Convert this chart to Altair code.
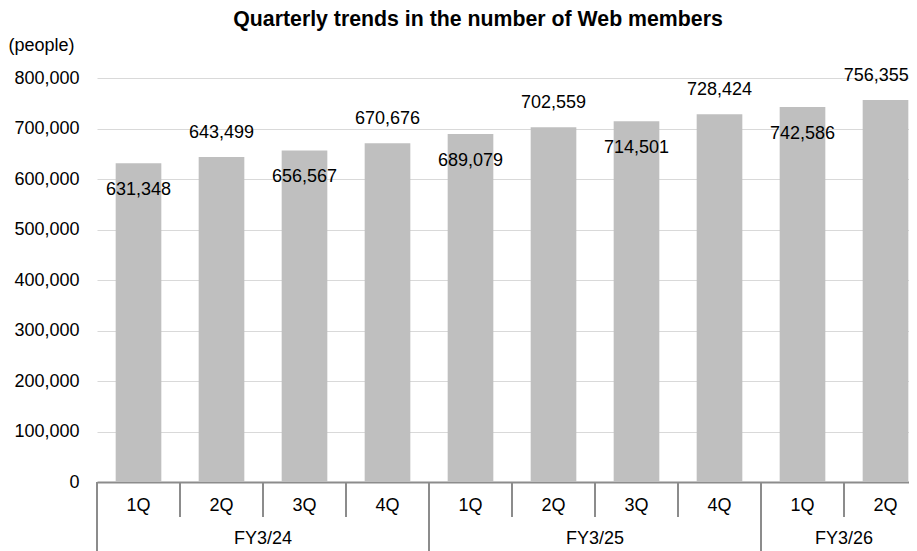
import altair as alt
import pandas as pd

# ---- data ----
fiscal_years = ["FY3/24", "FY3/24", "FY3/24", "FY3/24",
                "FY3/25", "FY3/25", "FY3/25", "FY3/25",
                "FY3/26", "FY3/26"]
quarters = ["1Q", "2Q", "3Q", "4Q", "1Q", "2Q", "3Q", "4Q", "1Q", "2Q"]
members = [631348, 643499, 656567, 670676, 689079,
           702559, 714501, 728424, 742586, 756355]
y_ticks = [0, 100000, 200000, 300000, 400000, 500000, 600000, 700000, 800000]

TITLE = "Quarterly trends in the number of Web members"
UNIT = "(people)"

# ---- tables built from the arrays ----
keys = [f"{fy} {q}" for fy, q in zip(fiscal_years, quarters)]
n = len(keys)
df = pd.DataFrame({
    "key": keys,
    "fy": fiscal_years,
    "q": quarters,
    "members": members,
    "above": [i % 2 == 1 for i in range(n)],
    "last": [i == n - 1 for i in range(n)],
    "first": [i == 0 or fiscal_years[i] != fiscal_years[i - 1] for i in range(n)],
})

fy_rows = []
for fy in dict.fromkeys(fiscal_years):
    idx = [i for i, f in enumerate(fiscal_years) if f == fy]
    fy_rows.append({"fy": fy, "mid": keys[idx[0] + len(idx) // 2]})
fy_df = pd.DataFrame(fy_rows)

FONT = "Liberation Sans"
FS = 18
W = 812          # visible plot width (page is 917 px wide)
RANGE = 830      # full band range; the last band runs past the page edge
H = 404
GRAY = "#8c8c8c"

xscale = alt.Scale(domain=keys, range=[0, RANGE], paddingInner=0, paddingOuter=0)
yscale = alt.Scale(domain=[0, 800000])

x_axis = alt.Axis(
    title=None, labelExpr="split(datum.label, ' ')[1]", labelAngle=0,
    ticks=False, grid=False, domainColor=GRAY, domainWidth=2,
    labelPadding=14, labelFontSize=FS, labelFont=FONT, labelColor="black",
)
y_axis = alt.Axis(
    values=y_ticks, labelExpr="format(datum.value, ',')", domain=False, ticks=False,
    labelPadding=18, labelFontSize=FS, labelFont=FONT, labelColor="black",
    gridColor="#d9d9d9", gridWidth=1,
    title=UNIT, titleAngle=0, titleAlign="left", titleBaseline="middle",
    titleX=-89, titleY=-33, titleFontWeight="normal", titleFontSize=FS,
    titleFont=FONT, titleColor="black",
)

X = lambda field, **kw: alt.X(field, scale=xscale, axis=x_axis, **kw)
Y = lambda field: alt.Y(field, scale=yscale, axis=y_axis)

base = alt.Chart(df)

bars = base.mark_bar(color="#bfbfbf", width=alt.RelativeBandSize(0.55)).encode(
    x=X("key:N"), y=Y("members:Q"),
)

lab_above = base.transform_filter("datum.above && !datum.last").mark_text(
    dy=-24, fontSize=FS, font=FONT, color="black"
).encode(x=X("key:N"), y=Y("members:Q"), text=alt.Text("members:Q", format=","))

# last label sits against the page edge, as in the reference
lab_last = base.transform_filter("datum.last").mark_text(
    dy=-24, fontSize=FS, font=FONT, color="black", align="right"
).encode(x=X("key:N", bandPosition=0.78), y=Y("members:Q"),
         text=alt.Text("members:Q", format=","))

lab_inside = base.transform_filter("!datum.above").mark_text(
    dy=27, fontSize=FS, font=FONT, color="black"
).encode(x=X("key:N"), y=Y("members:Q"), text=alt.Text("members:Q", format=","))

q_sep = base.transform_filter("!datum.first").mark_rule(color=GRAY, strokeWidth=2).encode(
    x=X("key:N", bandPosition=0), y=alt.value(H), y2=alt.value(H + 35),
)
fy_sep = base.transform_filter("datum.first").mark_rule(color=GRAY, strokeWidth=2).encode(
    x=X("key:N", bandPosition=0), y=alt.value(H), y2=alt.value(H + 80),
)
fy_lab = alt.Chart(fy_df).mark_text(fontSize=FS, font=FONT, color="black", baseline="middle").encode(
    x=X("mid:N", bandPosition=0), y=alt.value(H + 57), text="fy:N",
)

chart = alt.layer(bars, lab_above, lab_last, lab_inside, q_sep, fy_sep, fy_lab).properties(
    width=W, height=H,
    title=alt.Title(TITLE, font=FONT, fontSize=21.3, fontWeight="bold", color="black",
                    anchor="middle", frame="group", dx=-25, offset=6),
    autosize=alt.AutoSizeParams(type="none"),
    padding={"left": 89, "top": 70, "right": 0, "bottom": 69},
).configure_view(stroke=None)

chart.save("out.html", embed_options={"renderer": "svg", "actions": False})
